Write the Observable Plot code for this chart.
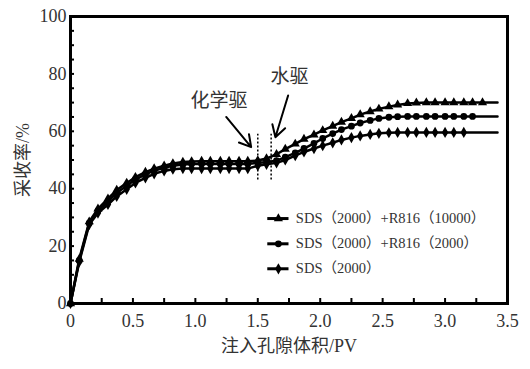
<!DOCTYPE html>
<html><head><meta charset="utf-8">
<script src="https://cdn.jsdelivr.net/npm/d3@7"></script>
<script src="https://cdn.jsdelivr.net/npm/@observablehq/plot@0.6"></script>
<style>
body{margin:0;background:#fff;}
svg text{font-family:"Liberation Serif","Noto Sans CJK SC",serif;}
</style></head>
<body><div id="chart"></div>
<script>
const seriesNames = ["SDS（2000）+R816（10000）","SDS（2000）+R816（2000）","SDS（2000）"];
const pv = [0,0.07,0.15,0.22,0.3,0.37,0.45,0.52,0.6,0.67,0.75,0.82,0.9,0.97,1.05,1.12,1.2,1.27,1.35,1.42,1.5,1.57,1.65,1.72,1.8,1.87,1.95,2.02,2.1,2.17,2.25,2.32,2.4,2.47,2.55,2.62,2.7,2.77,2.85,2.92,3.0,3.07,3.15,3.22,3.3,3.42];
const recA = [0,15.5,28.5,33,36.5,39.5,42,44,45.8,47,48,48.8,49.3,49.5,49.6,49.6,49.6,49.6,49.6,49.6,49.8,50.5,52,53.8,55.6,57.3,58.8,60.3,61.8,63.2,64.5,65.8,66.9,67.8,68.6,69.2,69.7,69.9,70,70,70,70,70,70,70,70];
const recB = [0,15,28,32.3,35.6,38.5,41,43.2,45,46.3,47.3,48,48.4,48.6,48.6,48.6,48.6,48.6,48.6,48.6,49,49.2,49.8,51,52.5,54,55.8,57.5,59.2,60.6,61.8,62.9,63.8,64.5,64.9,65.1,65.2,65.2,65.2,65.2,65.2,65.2,65.2,65.2,65.2,65.2];
const recC = [0,14.5,27.5,31.5,34.5,37.3,39.8,42,43.8,45.2,46.2,46.8,47,47,47,47,47,47,47,47,48,48.5,49,50,51.5,52.8,54,55,56,57,57.8,58.4,58.9,59.3,59.5,59.6,59.6,59.6,59.6,59.6,59.6,59.6,59.6,59.6,59.6,59.6];
const lastMarkerPV = [3.3, 3.22, 3.15];
const symbols = ["triangle","circle","diamond"];
const xTickLabels = [0,0.5,1.0,1.5,2.0,2.5,3.0,3.5];
const yTickLabels = [0,20,40,60,80,100];
const annotations = [{t:"化学驱", x:1.19, y:70.7},{t:"水驱", x:1.755, y:79.1}];
const arrows = [{x1:1.247,y1:65,x2:1.447,y2:54.5},{x1:1.743,y1:72.5,x2:1.641,y2:57.9}];
const dividers = [1.5, 1.607];

const allY = [recA, recB, recC];
const rows = [];
allY.forEach((arr,i)=>arr.forEach((v,j)=>rows.push({x:pv[j], y:v, s:seriesNames[i], m: pv[j] <= lastMarkerPV[i]+1e-9})));
const legendY = [29.6, 20.8, 12.1];
const legendRows = seriesNames.map((n,i)=>({n, y:legendY[i]}));

const chart = Plot.plot({
  width: 530, height: 369,
  marginLeft: 70, marginRight: 23, marginTop: 16, marginBottom: 66,
  style: {fontFamily: '"Liberation Serif","Noto Sans CJK SC",serif', background: "#fff", color: "#333"},
  x: {domain: [0,3.5]},
  y: {domain: [0,100]},
  symbol: {domain: seriesNames, range: symbols},
  marks: [
    Plot.axisX({ticks: d3.range(0, 3.51, 0.25), tickSize: -5, text: null, stroke: "black", strokeWidth: 2}),
    Plot.axisX({ticks: xTickLabels, tickSize: 0, tickPadding: 11, fontSize: 18, tickFormat: d => d === 0 ? "0" : d.toFixed(1), label: "注入孔隙体积/PV", labelAnchor: "center", labelArrow: "none", labelOffset: 48}),
    Plot.axisY({ticks: d3.range(0, 101, 5), tickSize: -4, text: null, stroke: "black", strokeWidth: 2}),
    Plot.axisY({ticks: yTickLabels, tickSize: 0, tickPadding: 4, fontSize: 18, label: "采收率/%", labelAnchor: "center", labelArrow: "none", labelOffset: 54}),
    Plot.ruleX(dividers, {y1: 43, y2: 59, stroke: "black", strokeWidth: 1.5, strokeDasharray: "2,2"}),
    Plot.line(rows, {x: "x", y: "y", z: "s", stroke: "black", strokeWidth: 2.5}),
    Plot.dot(rows.filter(d => d.m), {x: "x", y: "y", symbol: "s", fill: "black", r: 3.4}),
    Plot.arrow(arrows, {x1: "x1", y1: "y1", x2: "x2", y2: "y2", stroke: "black", strokeWidth: 2, headLength: 10}),
    Plot.text(annotations, {x: "x", y: "y", text: "t", fontSize: 19, fill: "#333", fontFamily: '"Noto Sans CJK SC"'}),
    Plot.ruleY(legendRows, {y: "y", x1: 1.58, x2: 1.75, stroke: "black", strokeWidth: 3}),
    Plot.dot(legendRows, {x: 1.665, y: "y", symbol: "n", fill: "black", r: 3.4}),
    Plot.text(legendRows, {x: 1.805, y: "y", text: "n", textAnchor: "start", fontSize: 14.5, fill: "#333"}),
    Plot.frame({stroke: "black", strokeWidth: 3})
  ]
});
document.getElementById("chart").appendChild(chart);
</script></body></html>
